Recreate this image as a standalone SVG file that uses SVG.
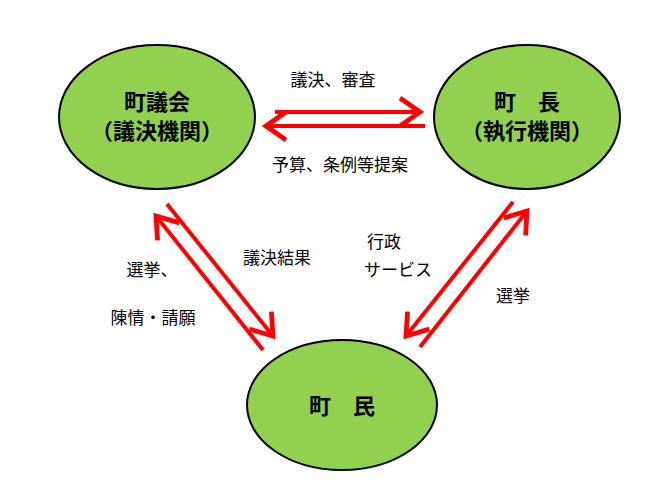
<svg xmlns="http://www.w3.org/2000/svg" width="647" height="489" viewBox="0 0 647 489">
<style>
.n{fill:#92d050;stroke:#000;stroke-width:2}
.t{font-family:"Noto Sans CJK JP",sans-serif;font-size:22px;font-weight:bold;text-anchor:middle;fill:#000}
.l{font-family:"Noto Sans CJK JP",sans-serif;font-size:17px;text-anchor:middle;fill:#000}
.c{stroke:#ff0000;stroke-width:4;fill:none;marker-end:url(#a)}
</style>
<defs><marker id="a" markerWidth="8" markerHeight="8" refX="6" refY="4" orient="auto" markerUnits="strokeWidth"><path d="M1,0.5 L6,4 L1,7.5" fill="none" stroke="#ff0000" stroke-width="1.2"/></marker></defs>
<rect width="647" height="489" fill="#fff"/>
<g id="gikai"><ellipse class="n" cx="157" cy="117" rx="98" ry="72"/><text class="t" x="157" y="110">町議会</text><text class="t" x="157" y="139">（議決機関）</text></g>
<g id="chocho"><ellipse class="n" cx="527" cy="117" rx="93" ry="72"/><text class="t" x="527" y="110">町　長</text><text class="t" x="527" y="139">（執行機関）</text></g>
<g id="chomin"><ellipse class="n" cx="342" cy="405" rx="95" ry="65"/><text class="t" x="342" y="414">町　民</text></g>
<g id="connectors">
<line class="c" x1="275" y1="112" x2="420" y2="112"/>
<line class="c" x1="425" y1="126" x2="266" y2="126"/>
<line class="c" x1="167" y1="204" x2="273" y2="336"/>
<line class="c" x1="263" y1="350" x2="156" y2="216"/>
<line class="c" x1="513" y1="202" x2="406" y2="336"/>
<line class="c" x1="420" y1="347" x2="527" y2="211"/>
</g>
<g id="labels">
<text class="l" x="333" y="86">議決、審査</text>
<text class="l" x="340" y="171">予算、条例等提案</text>
<text class="l" x="277" y="264">議決結果</text>
<text class="l" x="152" y="276">選挙、</text>
<text class="l" x="153" y="324">陳情・請願</text>
<text class="l" x="384" y="248">行政</text>
<text class="l" x="398" y="276">サービス</text>
<text class="l" x="513" y="302">選挙</text>
</g>
</svg>
